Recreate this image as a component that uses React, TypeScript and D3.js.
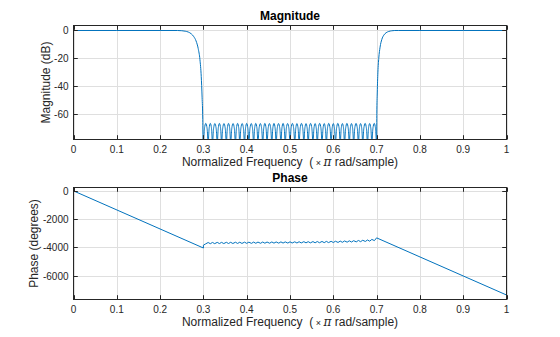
import React from "react";
import * as d3 from "d3";

// ---- Data ----
const xTicks = [0, 0.1, 0.2, 0.3, 0.4, 0.5, 0.6, 0.7, 0.8, 0.9, 1];
const xTickLabels = ["0", "0.1", "0.2", "0.3", "0.4", "0.5", "0.6", "0.7", "0.8", "0.9", "1"];
const magTicks = [0, -20, -40, -60];
const phaseTicks = [0, -2000, -4000, -6000];

// left passband + transition (freq, dB)
const magLeftFreq = [0, 0.1, 0.2, 0.24, 0.25, 0.258, 0.265, 0.272, 0.278, 0.283, 0.288, 0.292, 0.295, 0.297, 0.2985];
const magLeftDb = [0, 0, 0, 0, -0.15, -0.5, -1.1, -2.4, -4.5, -7.5, -13, -21, -33, -48, -64];

// stopband nulls and lobe peaks
const stopNullFreq = [0.300, 0.311, 0.321, 0.332, 0.342, 0.353, 0.363, 0.374, 0.384, 0.395, 0.405, 0.416, 0.426, 0.437, 0.447, 0.458, 0.468, 0.479, 0.489, 0.500, 0.511, 0.521, 0.532, 0.542, 0.553, 0.563, 0.574, 0.584, 0.595, 0.605, 0.616, 0.626, 0.637, 0.647, 0.658, 0.668, 0.679, 0.689, 0.700];
const stopPeakDb = [-66.9, -66.9, -67.0, -66.9, -67.0, -66.9, -67.0, -66.9, -67.0, -66.9, -67.0, -66.9, -67.0, -66.9, -67.0, -66.9, -67.0, -66.9, -67.0, -66.9, -67.0, -66.9, -67.0, -66.9, -67.0, -66.9, -67.0, -66.9, -67.0, -66.9, -67.0, -66.9, -67.0, -66.9, -67.0, -66.9, -67.0, -66.9];
// shape of one stopband lobe: position within the lobe (0..1) and level relative to its peak (dB)
const lobeShapePos = [0, 0.06, 0.15, 0.3, 0.5, 0.7, 0.85, 0.94, 1];
const lobeShapeDb = [-40, -15, -7, -2, 0, -2, -7, -15, -40];

// right transition + passband
const magRightFreq = [0.7005, 0.7015, 0.703, 0.705, 0.708, 0.712, 0.717, 0.722, 0.728, 0.735, 0.742, 0.75, 0.8, 0.9, 1];
const magRightDb = [-60, -45, -30, -20, -12, -6.5, -3.2, -1.6, -0.7, -0.2, 0, 0, 0, 0, 0];

// phase (degrees)
const stopPeakFreq = [0.305, 0.316, 0.326, 0.337, 0.347, 0.358, 0.368, 0.379, 0.389, 0.400, 0.411, 0.421, 0.432, 0.442, 0.453, 0.463, 0.474, 0.484, 0.495, 0.505, 0.516, 0.526, 0.537, 0.547, 0.558, 0.568, 0.579, 0.589, 0.600, 0.611, 0.621, 0.632, 0.642, 0.653, 0.663, 0.674, 0.684, 0.695];
const phaseLeftFreq = [0, 0.3];
const phaseLeftDeg = [0, -4050];
const phaseAtNulls = [-3850, -3660, -3655, -3650, -3650, -3645, -3645, -3640, -3640, -3635, -3635, -3630, -3630, -3625, -3625, -3620, -3620, -3615, -3615, -3610, -3610, -3605, -3600, -3600, -3595, -3590, -3585, -3580, -3575, -3570, -3560, -3550, -3540, -3530, -3515, -3500, -3480, -3440, -3330];
const phaseAtPeaks = [-3760, -3745, -3740, -3735, -3735, -3730, -3730, -3725, -3725, -3720, -3720, -3715, -3715, -3710, -3710, -3705, -3705, -3700, -3700, -3695, -3695, -3690, -3685, -3685, -3680, -3675, -3670, -3665, -3660, -3655, -3645, -3635, -3625, -3615, -3600, -3585, -3565, -3525];
const phaseRightFreq = [0.7, 1];
const phaseRightDeg = [-3330, -7380];

// ---- Layout ----
const W = 560, H = 337;
const left = 73.5, right = 506.5;
const magTop = 25.5, magBottom = 139.5;
const phTop = 187.5, phBottom = 299.5;
const FONT = "'Liberation Sans', Arial, Helvetica, sans-serif";
const LINE = "#0072BD";
const AX = "#262626";
const GRID = "#dfdfdf";

function buildMag(): [number, number][] {
  const pts: [number, number][] = [];
  magLeftFreq.forEach((f, i) => pts.push([f, magLeftDb[i]]));
  for (let i = 0; i < stopPeakDb.length; i++) {
    const f0 = stopNullFreq[i], f1 = stopNullFreq[i + 1];
    lobeShapePos.forEach((p, j) => {
      if (i > 0 && j === 0) return;
      pts.push([f0 + (f1 - f0) * p, stopPeakDb[i] + lobeShapeDb[j]]);
    });
  }
  magRightFreq.forEach((f, i) => pts.push([f, magRightDb[i]]));
  return pts;
}

function buildPhase(): [number, number][] {
  const pts: [number, number][] = [];
  phaseLeftFreq.forEach((f, i) => pts.push([f, phaseLeftDeg[i]]));
  stopNullFreq.forEach((f, i) => {
    pts.push([f, phaseAtNulls[i]]);
    if (i < stopPeakFreq.length) pts.push([stopPeakFreq[i], phaseAtPeaks[i]]);
  });
  phaseRightFreq.forEach((f, i) => pts.push([f, phaseRightDeg[i]]));
  return pts;
}

function XLabel({ y }: { y: number }) {
  return (
    <text x={(left + right) / 2} y={y} textAnchor="middle" fontSize={12} fill={AX} fontFamily={FONT}>
      Normalized Frequency{"\u00A0\u00A0"}(
      <tspan fontSize={9}>{"\u00A0\u00D7\u00A0"}</tspan>
      <tspan fontStyle="italic" fontFamily="'DejaVu Serif', 'Liberation Serif', serif">π</tspan>
      {" rad/sample)"}
    </text>
  );
}

function Axes({
  top, bottom, y, yTicks, yFormat, path, clipId, title, ylabel, ylabelX,
}: {
  top: number; bottom: number; y: d3.ScaleLinear<number, number>; yTicks: number[];
  yFormat: (v: number) => string; path: string; clipId: string; title: string; ylabel: string; ylabelX: number;
}) {
  const x = d3.scaleLinear().domain([0, 1]).range([left, right]);
  const tl = 4.3;
  return (
    <g>
      <rect x={left} y={top} width={right - left} height={bottom - top} fill="white" />
      {xTicks.map((t) => (
        <line key={"gx" + t} x1={Math.round(x(t)) + 0.5} x2={Math.round(x(t)) + 0.5} y1={top} y2={bottom} stroke={GRID} strokeWidth={1} />
      ))}
      {yTicks.map((t) => (
        <line key={"gy" + t} x1={left} x2={right} y1={Math.round(y(t)) + 0.5} y2={Math.round(y(t)) + 0.5} stroke={GRID} strokeWidth={1} />
      ))}
      <clipPath id={clipId}>
        <rect x={left} y={top} width={right - left} height={bottom - top} />
      </clipPath>
      <path d={path} fill="none" stroke={LINE} strokeWidth={1} clipPath={`url(#${clipId})`} />
      <rect x={left} y={top} width={right - left} height={bottom - top} fill="none" stroke={AX} strokeWidth={1} />
      {xTicks.map((t) => {
        const px = Math.round(x(t)) + 0.5;
        return (
          <g key={"tx" + t}>
            <line x1={px} x2={px} y1={bottom} y2={bottom - tl} stroke={AX} />
            <line x1={px} x2={px} y1={top} y2={top + tl} stroke={AX} />
          </g>
        );
      })}
      {yTicks.map((t) => {
        const py = Math.round(y(t)) + 0.5;
        return (
          <g key={"ty" + t}>
            <line x1={left} x2={left + tl} y1={py} y2={py} stroke={AX} />
            <line x1={right} x2={right - tl} y1={py} y2={py} stroke={AX} />
            <text x={left - 5} y={py + 3.5} textAnchor="end" fontSize={10} fill={AX} fontFamily={FONT}>
              {yFormat(t)}
            </text>
          </g>
        );
      })}
      {xTicks.map((t, i) => (
        <text key={"lx" + t} x={x(t)} y={bottom + 13} textAnchor="middle" fontSize={10} fill={AX} fontFamily={FONT}>
          {xTickLabels[i]}
        </text>
      ))}
      <text x={(left + right) / 2} y={top - 5.5} textAnchor="middle" fontSize={12} fontWeight="bold" fill="#000" fontFamily={FONT}>
        {title}
      </text>
      <text
        transform={`translate(${ylabelX},${(top + bottom) / 2}) rotate(-90)`}
        textAnchor="middle" fontSize={12} fill={AX} fontFamily={FONT}
      >
        {ylabel}
      </text>
      <XLabel y={bottom + 26} />
    </g>
  );
}

export default function App() {
  const x = d3.scaleLinear().domain([0, 1]).range([left, right]);
  const yMag = d3.scaleLinear().domain([-78.5, 3.6]).range([magBottom, magTop]);
  const yPh = d3.scaleLinear().domain([-7700, 240]).range([phBottom, phTop]);

  const magLine = d3.line<[number, number]>().x((d) => x(d[0])).y((d) => yMag(d[1])).curve(d3.curveMonotoneX);
  const phLine = d3.line<[number, number]>().x((d) => x(d[0])).y((d) => yPh(d[1]));

  const magPath = magLine(buildMag()) || "";
  const phPath = phLine(buildPhase()) || "";

  return (
    <svg width={W} height={H} style={{ position: "absolute", left: 0, top: 0, background: "white" }}>
      <rect width={W} height={H} fill="white" />
      <Axes top={magTop} bottom={magBottom} y={yMag} yTicks={magTicks} yFormat={(v) => String(v)}
        path={magPath} clipId="clipMag" title="Magnitude" ylabel="Magnitude (dB)" ylabelX={49.5} />
      <Axes top={phTop} bottom={phBottom} y={yPh} yTicks={phaseTicks} yFormat={(v) => String(v)}
        path={phPath} clipId="clipPh" title="Phase" ylabel="Phase (degrees)" ylabelX={37.5} />
    </svg>
  );
}
